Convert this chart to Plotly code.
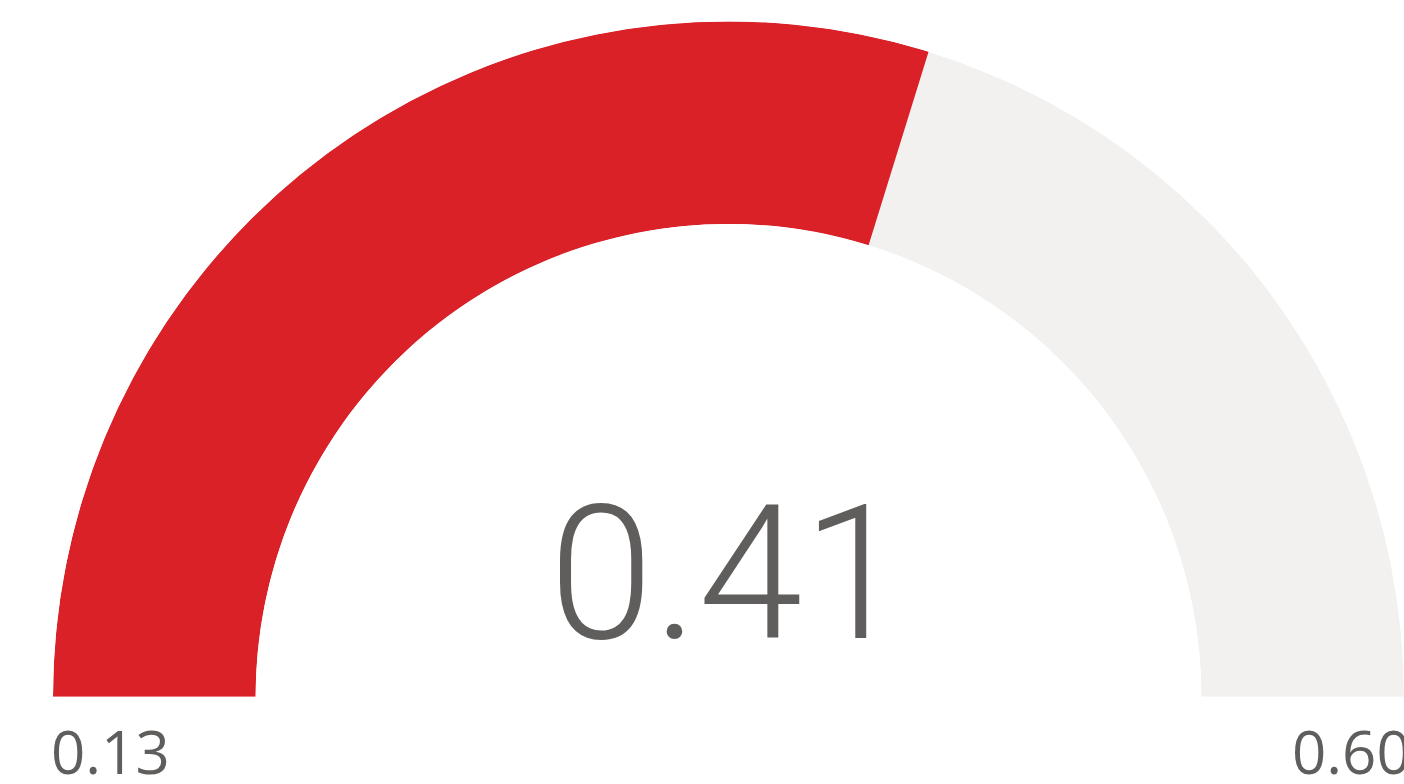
import plotly.graph_objects as go

# Gauge data
gauge_min = 0.13
gauge_max = 0.60
gauge_value = 0.41

RED = "#DA2128"
TRACK = "#F2F1F0"
TEXT = "#605E5C"

W, H = 1404, 784


def to_deg(v):
    """Map a gauge value onto the 0-180 degree half circle."""
    return (v - gauge_min) / (gauge_max - gauge_min) * 180.0


value_deg = to_deg(gauge_value)
full_deg = to_deg(gauge_max)

fig = go.Figure()

# grey track over the full range
fig.add_trace(go.Barpolar(
    r=[1], base=[0],
    theta=[full_deg / 2], width=[full_deg],
    marker=dict(color=TRACK, line=dict(width=0)),
    hoverinfo="skip", showlegend=False,
))

# filled portion up to the current value
fig.add_trace(go.Barpolar(
    r=[1], base=[0],
    theta=[value_deg / 2], width=[value_deg],
    marker=dict(color=RED, line=dict(width=0)),
    hoverinfo="skip", showlegend=False,
))

fig.update_layout(
    width=W, height=H,
    margin=dict(l=0, r=0, t=0, b=0),
    paper_bgcolor="white",
    plot_bgcolor="white",
    polar=dict(
        domain=dict(x=[53 / W, 1], y=[86 / H, 764 / H]),
        sector=[0, 180],
        hole=0.70,
        bgcolor="white",
        radialaxis=dict(range=[0, 1], visible=False, showgrid=False),
        angularaxis=dict(rotation=180, direction="clockwise",
                         visible=False, showgrid=False),
        barmode="overlay",
    ),
)

# central value
fig.add_annotation(
    x=728 / W, y=(H - 686) / H, xref="paper", yref="paper",
    xanchor="center", yanchor="bottom",
    text=f"{gauge_value:.2f}", showarrow=False,
    font=dict(family="Roboto, sans-serif", size=188, weight=300, color=TEXT),
)

# range end labels
fig.add_annotation(
    x=49 / W, y=(H - 751) / H, xref="paper", yref="paper",
    xanchor="left", yanchor="middle",
    text=f"{gauge_min:.2f}", showarrow=False,
    font=dict(family="Open Sans, sans-serif", size=60, color=TEXT),
)
fig.add_annotation(
    x=1413 / W, y=(H - 751) / H, xref="paper", yref="paper",
    xanchor="right", yanchor="middle",
    text=f"{gauge_max:.2f}", showarrow=False,
    font=dict(family="Open Sans, sans-serif", size=60, color=TEXT),
)

fig.write_html("out.html", config={"displayModeBar": False})
